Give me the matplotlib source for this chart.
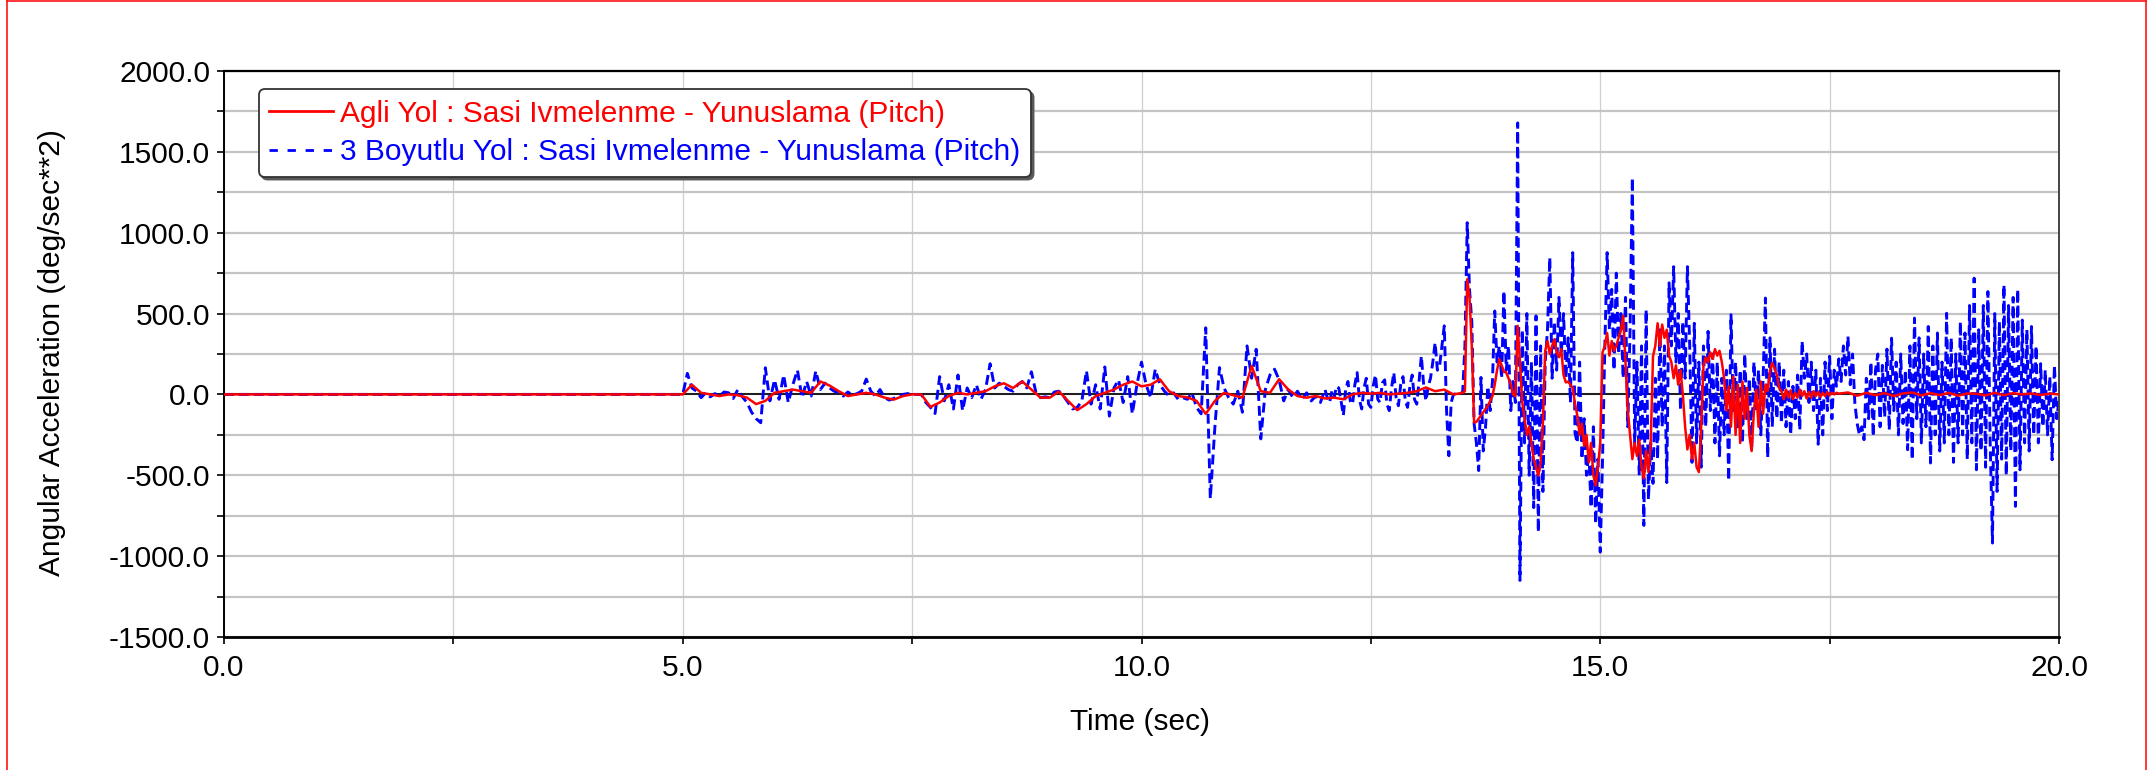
import matplotlib
matplotlib.use("Agg")
import matplotlib.pyplot as plt
from matplotlib.lines import Line2D
from matplotlib.legend_handler import HandlerLine2D
from matplotlib.ticker import MultipleLocator, FormatStrFormatter
import numpy as np

plt.rcParams['font.family'] = ['Liberation Sans', 'DejaVu Sans']

red_label = "Agli Yol : Sasi Ivmelenme - Yunuslama (Pitch)"
blue_label = "3 Boyutlu Yol : Sasi Ivmelenme - Yunuslama (Pitch)"
x_label = "Time (sec)"
y_label = "Angular Acceleration (deg/sec**2)"

x_ticks = [0.0, 5.0, 10.0, 15.0, 20.0]
y_ticks = [-1500.0, -1000.0, -500.0, 0.0, 500.0, 1000.0, 1500.0, 2000.0]

# ---- red: Agli Yol (deg/s^2) ----
# 0 .. 5 s nothing happens
red_quiet = [0.0]
# 5.0 .. 13.4 s, every 0.1 s
red_a = [0, 60, 10, 0, -10, 0, -5, -20, -60, -40,
         10, 20, 30, 20, 10, 80, 55, 20, -10, 0,
         10, 0, -20, -32, -10, 0, 0, -77, -50, -10,
         10, 0, 10, 20, 50, 69, 40, 80, 30, -20,
         -20, 18, -40, -97, -60, -10, 10, 30, 60, 80,
         50, 60, 94, 20, -10, -18, -40, -120, -40, 10,
         -5, -20, 176, 20, 10, 94, 30, -10, -20, -10,
         -25, -20, -30, 0, 10, 5, 10, 0, 5, 10,
         20, 43, 20, 30, 0]
# 13.5 .. 17.6 s, every 0.025 s
red_b = [10, 20, 712, 600, 300, -173, -170, -150, -130, -110,
         -90, -70, -40, -10, 60, 150, 218, 180, 140, 136,
         100, 60, 0, -10, 424, 200, -50, -150, -250, -200,
         -300, -400, -450, -502, -420, -173, 270, 330, 250, 300,
         340, 260, 230, 280, 120, 74, 80, 60, 40, -60,
         -130, -250, -180, -320, -250, -420, -300, -500, -564, -450,
         -300, 260, 300, 380, 240, 330, 270, 300, 350, 400,
         486, 200, -100, -250, -400, -300, -380, -280, -450, -520,
         -350, -480, -300, 236, 300, 440, 300, 432, 350, 400,
         240, 200, 100, 180, 60, 150, 0, -200, -340, -250,
         -400, -300, -450, -480, -200, 180, 230, 200, 260, 220,
         280, 240, 270, 200, 100, -100, 50, -200, 110, -250,
         60, -300, 80, -150, 40, -250, -350, -100, 30, -200,
         80, -120, 60, 20, 150, 195, 160, 120, 40, 20,
         -30, 30, -20, 25, -30, 10, -20, 30, -10, 20,
         -25, 15, -20, 20, -10, 15, -15, 10, -10, 15,
         -5, 10, 0, 10, 5]
# 17.7 .. 20.0 s, every 0.1 s
red_c = [12, -8, 10, -5, 8, -10, 6, 12, -6, 8,
         -4, 10, -8, 6, 4, -6, 10, -5, 8, 0,
         6, -4, 5, 0]

# ---- blue: 3 Boyutlu Yol ----
blue_quiet = [0.0]
# 5.0 .. 11.95 s, every 0.05 s
blue_a = [0, 130, 40, 20, -20, 10, -15, 5, -10, 15,
          10, -25, 30, -15, -50, -110, -150, -175, 165, -40,
          90, -30, 120, -50, 60, 150, -20, 80, -10, 145,
          30, 70, 40, 20, 10, -10, 15, -5, 5, 20,
          95, 20, -10, 30, -20, -35, -25, -10, 0, 5,
          0, 0, 0, -50, -80, -118, 110, -40, 60, -90,
          120, -100, 40, -20, 60, -30, 30, 190, 40, 70,
          50, 30, 20, 60, 80, 40, 140, 10, -20, -15,
          -20, 15, 20, -10, -50, -90, -80, -40, 146, -60,
          60, -90, 170, -134, 40, 90, -50, 110, -120, 60,
          200, 60, -20, 156, 60, 20, -10, 10, -30, -20,
          -30, 10, -80, -120, 412, -644, -200, 166, 40, -20,
          -60, 20, -110, 300, 100, 279, -275, 30, 120, 156,
          90, -40, 30, -20, 20, -30, 10, -40, -10, -50]
# 12.0 .. 13.425 s, every 0.025 s (the busier stretch)
blue_a2 = [30, -20, -50, 20, -20, 50, 40, -40, -130, 30,
           80, -40, -60, 60, 135, -30, -90, 40, 100, -60,
           -80, 50, 120, -30, -50, 70, 90, -60, -100, 40,
           135, -20, -70, 60, 110, -40, -80, 50, 120, -30,
           -60, 80, 238, 60, -40, 50, 100, 200, 320, 150,
           180, 300, 424, -100, -379, -50, 0, 5]
# 13.5 .. 17.8 s, every 0.025 s
blue_b = [10, 300, 1062, 650, 450, -180, -300, -471, 105, -350,
          -200, 50, -100, 80, 516, 200, 300, 100, 640, 150,
          300, -100, 80, -50, 1679, -1150, 400, -300, 500, -500,
          200, -700, 486, -852, 300, -600, 200, 400, 846, 100,
          450, 150, 600, 250, 500, 100, 350, -50, 877, -240,
          -300, 200, -400, -150, -500, -350, -700, -200, -800, -400,
          -975, -400, 300, 877, 400, 650, 150, 750, 250, 500,
          100, 600, -200, 400, 1340, -300, 200, -500, 300, -810,
          524, -650, -300, -550, 100, -400, 400, -200, 300, -545,
          690, 300, 790, 200, 500, -100, 450, 100, 790, 300,
          -420, 440, -300, 200, -450, 300, -200, 390, -100, 250,
          -300, 200, -380, 100, -250, 150, -534, 493, -100, 200,
          -200, 150, -300, 250, -150, 100, -350, 200, -100, 150,
          -250, 100, 596, -390, 350, -200, 280, -150, 200, -180,
          150, -200, 80, -250, 50, -150, 120, -220, 330, 100,
          250, -50, 200, -100, 150, -308, 100, -250, 200, -100,
          236, -150, 150, 50, 220, 80, 300, 120, 358, 60,
          250, -54, -180]
# 17.825 .. 20.0 s, every 0.025 s
blue_c = [-250, -200, -280, 100, -150, 200, -260, 150, 250, -200,
          180, -140, 280, -220, 348, -100, 200, -250, 250, -180,
          150, -342, 300, -404, 472, -150, 350, -300, 250, -200,
          420, -424, 300, -250, 380, -350, 200, -300, 502, -250,
          350, -420, 250, -300, 450, -250, 380, -400, 550, -300,
          719, -466, 400, -350, 550, -450, 636, -300, -919, 500,
          -600, 450, -400, 678, -500, 550, -350, 600, -692, 650,
          -466, 460, -300, 400, -350, 420, -250, 300, -300, 190,
          -200, 150, -250, 110, -404, 180, -150, -33]


def stitch(parts):
    # parts: (start time, step, values)
    ts, vs = [], []
    for start, step, vals in parts:
        ts.append(start + step * np.arange(len(vals)))
        vs.append(np.asarray(vals, dtype=float))
    return np.concatenate(ts), np.concatenate(vs)


class InsetLine(HandlerLine2D):
    # legend line that starts a bit in from the left edge of its box
    def __init__(self, inset, **kw):
        super().__init__(**kw)
        self.inset = inset

    def create_artists(self, legend, orig_handle, xdescent, ydescent,
                       width, height, fontsize, trans):
        arts = super().create_artists(legend, orig_handle, xdescent, ydescent,
                                      width, height, fontsize, trans)
        for a in arts:
            xd = np.asarray(a.get_xdata(), dtype=float)
            if len(xd) == 2:
                a.set_xdata([xd[0] + self.inset * fontsize, xd[1]])
        return arts


t_red, v_red = stitch([(0.0, 1.0, red_quiet), (5.0, 0.1, red_a),
                       (13.5, 0.025, red_b), (17.7, 0.1, red_c)])
t_blue, v_blue = stitch([(0.0, 1.0, blue_quiet), (5.0, 0.05, blue_a),
                         (12.0, 0.025, blue_a2), (13.5, 0.025, blue_b),
                         (17.825, 0.025, blue_c)])

W, H = 2152, 770
fig = plt.figure(figsize=(W / 100, H / 100), dpi=100)
ax = fig.add_axes([224 / W, 1 - 637 / H, (2059 - 224) / W, (637 - 71) / H])

ax.plot(t_red, v_red, color='#ff0000', lw=1.8, zorder=3)
ax.plot(t_blue, v_blue, color='#0000ff', lw=2.1, dashes=(3.4, 1.7), zorder=2)
ax.axhline(0, color='black', lw=1.2, zorder=1.5)

# legend keys are drawn a little differently from the plotted lines
red_key = Line2D([], [], color='#ff0000', lw=2.0)
blue_key = Line2D([], [], color='#0000ff', lw=2.0, dashes=(3.0, 3.5))

ax.set_xlim(0, 20)
ax.set_ylim(-1500, 2000)
ax.set_xticks(x_ticks)
ax.set_yticks(y_ticks)
ax.xaxis.set_minor_locator(MultipleLocator(2.5))
ax.yaxis.set_minor_locator(MultipleLocator(250))
ax.xaxis.set_major_formatter(FormatStrFormatter('%.1f'))
ax.yaxis.set_major_formatter(FormatStrFormatter('%.1f'))
ax.tick_params(which='both', direction='out', length=5, width=1.2, colors='black')
ax.tick_params(axis='x', labelsize=21.5, pad=7)
ax.tick_params(axis='y', labelsize=21.5, pad=5)

ax.grid(axis='y', which='both', color='#c4c4c4', lw=1.6, zorder=0)
ax.grid(axis='x', which='both', color='#cfcfcf', lw=0.9, zorder=0)
ax.set_axisbelow(True)

for side, lw, col in [('top', 1.6, 'black'), ('bottom', 2.0, 'black'),
                      ('left', 1.4, 'black'), ('right', 1.4, '#444444')]:
    ax.spines[side].set_linewidth(lw)
    ax.spines[side].set_color(col)

fig.text(52 / W, 1 - 353 / H, y_label, rotation=90, ha='center', va='center', fontsize=21.5)
fig.text(1140 / W, 1 - 722 / H, x_label, ha='center', va='center', fontsize=21.5)

inset = InsetLine(0.5)
leg = ax.legend([red_key, blue_key], [red_label, blue_label],
                loc='upper left', bbox_to_anchor=(0.019, 0.968), borderaxespad=0,
                fontsize=21.5, labelcolor='linecolor', fancybox=True,
                shadow={'color': '0.35', 'alpha': 1.0},
                handler_map={red_key: inset, blue_key: inset},
                handlelength=2.14, handletextpad=0.23, labelspacing=0.36,
                borderpad=0.35, framealpha=1)
leg.get_frame().set_edgecolor('#333333')
leg.get_frame().set_linewidth(1.3)

# thin red frame around the picture
fig.add_artist(Line2D([7 / W, 7 / W], [0, 1 - 1 / H], color='#ff0000', lw=1.1))
fig.add_artist(Line2D([7 / W, 2146 / W], [1 - 1 / H, 1 - 1 / H], color='#ff0000', lw=1.1))
fig.add_artist(Line2D([2146 / W, 2146 / W], [0, 1 - 1 / H], color='#ff0000', lw=1.1))

fig.savefig('out.png', dpi=100)
